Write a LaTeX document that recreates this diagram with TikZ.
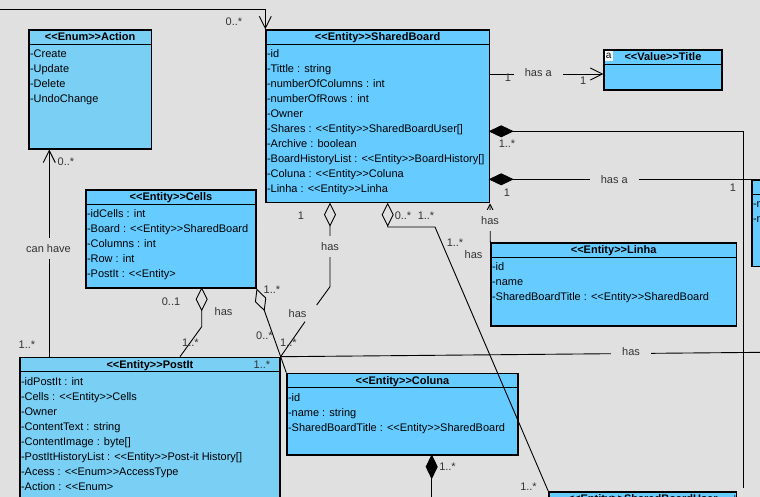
\documentclass[tikz,border=0pt]{standalone}
\usepackage{fontspec}
\setmainfont{Liberation Sans}
\usetikzlibrary{arrows.meta}

\definecolor{canvas}{HTML}{E0E0E0}
\definecolor{classblue}{HTML}{66CCFF}
\definecolor{paleblue}{HTML}{7ACFF5}
\definecolor{labelgray}{HTML}{333333}

% stereotype written with plain angle brackets (kerns keep << and >> apart)
\newcommand{\stereo}[1]{<\kern0pt<#1>\kern0pt>}

% class box: name, left, top, width, height, fill, title
\newcommand{\umlclass}[7]{%
  \node[classframe, fill=#6, minimum width=#4pt, minimum height=#5pt, anchor=north west] (#1) at (#2,#3) {};
  \draw[frameline] ([yshift=-15pt]#1.north west) -- ([yshift=-15pt]#1.north east);
  \node[classtitle] (#1-title) at ([yshift=-11.5pt]#1.north) {#7};
}
% attribute rows of a class box
\newcommand{\umlitems}[2]{%
  \foreach \txt [count=\k] in {#2} {
    \pgfmathsetmacro{\dy}{-28.3-15*(\k-1)}
    \node[classitem] (#1-item\k) at ([xshift=1.5pt,yshift=\dy pt]#1.north west) {\txt};
  }
}

\begin{document}
\begin{tikzpicture}[x=1pt,y=-1pt,
  classframe/.style={draw=black, line width=1.3pt, rectangle, inner sep=0pt},
  frameline/.style={draw=black, line width=1.3pt},
  classtitle/.style={anchor=base, inner sep=0pt, font=\fontsize{11}{13}\selectfont\bfseries},
  classitem/.style={anchor=base west, inner sep=0pt, font=\fontsize{11}{13}\selectfont},
  link/.style={draw=black, line width=0.9pt},
  navarrow/.style={-{Straight Barb[length=12pt,width=12pt]}},
  navsmall/.style={-{Straight Barb[length=9pt,width=9pt]}},
  comp/.style={{Diamond[length=25pt,width=12pt]}-},
  aggr/.style={{Diamond[open,length=24pt,width=12pt]}-},
  mult/.style={inner sep=0pt, font=\fontsize{11}{13}\selectfont, text=labelgray},
  role/.style={fill=canvas, inner xsep=11pt, inner ysep=4pt, font=\fontsize{11}{13}\selectfont, text=labelgray},
  rolev/.style={fill=canvas, inner xsep=2pt, inner ysep=6pt, font=\fontsize{11}{13}\selectfont, text=labelgray},
]
\useasboundingbox (0,0) rectangle (760,497);
\clip (0,0) rectangle (760,497);
\fill[canvas] (0,0) rectangle (760,497);

% ---------- classes ----------
\umlclass{act}{28.3}{29.3}{122.4}{119}{paleblue}{\stereo{Enum}Action}
\umlitems{act}{-Create,-Update,-Delete,-UndoChange}

\umlclass{sb}{265.3}{29.3}{223.4}{172.7}{classblue}{\stereo{Entity}SharedBoard}
\umlitems{sb}{-id,-Tittle : string,-numberOfColumns : int,-numberOfRows : int,-Owner,-Shares : \stereo{Entity}SharedBoardUser[],-Archive : boolean,-BoardHistoryList : \stereo{Entity}BoardHistory[],-Coluna : \stereo{Entity}Coluna,-Linha : \stereo{Entity}Linha}

\umlclass{ti}{603.3}{49.3}{118}{40}{classblue}{\stereo{Value}Title}
\node[fill=white, inner sep=0pt, minimum width=8pt, minimum height=10pt, anchor=north west,
      font=\fontsize{10}{10}\selectfont] (ti-icon) at (604.5,50.5) {a};

\umlclass{ce}{85.3}{189.3}{170}{98}{classblue}{\stereo{Entity}Cells}
\umlitems{ce}{-idCells : int,-Board : \stereo{Entity}SharedBoard,-Columns : int,-Row : int,-PostIt : <\kern0pt<Entity>}

\umlclass{li}{490.3}{242.3}{245.4}{83}{classblue}{\stereo{Entity}Linha}
\umlitems{li}{-id,-name,-SharedBoardTitle : \stereo{Entity}SharedBoard}

\umlclass{rb}{751.3}{179.3}{40}{86.7}{classblue}{}
\umlitems{rb}{-n,-n}

\umlclass{pi}{19.3}{356.7}{260}{160}{paleblue}{\stereo{Entity}PostIt}
\umlitems{pi}{-idPostIt : int,-Cells : \stereo{Entity}Cells,-Owner,-ContentText : string,-ContentImage : byte[],-PostItHistoryList : \stereo{Entity}Post-it History[],-Acess : \stereo{Enum}AccessType,-Action : <\kern0pt<Enum>}

\umlclass{co}{286.3}{372.7}{231}{81.6}{classblue}{\stereo{Entity}Coluna}
\umlitems{co}{-id,-name : string,-SharedBoardTitle : \stereo{Entity}SharedBoard}

\umlclass{su}{548.3}{491.3}{187.4}{60}{classblue}{\stereo{Entity}SharedBoardUser}

% ---------- connector end points ----------
\coordinate (offleft) at (-3,9.3);
\coordinate (canA) at (49.3,356.7);
\coordinate (hasA) at (488.7,74);
\coordinate (compA) at (488.7,131.3);
\coordinate (compAend) at (743,488);
\coordinate (compB) at (488.7,179.3);
\coordinate (aggA) at (330,202.7);
\coordinate (aggAbend) at (330,286.7);
\coordinate (aggAcut) at (316.7,305);
\coordinate (aggAresume) at (305,321.7);
\coordinate (aggB) at (387.7,202.7);
\coordinate (aggBdown) at (387.7,227);
\coordinate (aggBbend) at (435,227);
\coordinate (aggC) at (201.7,287.3);
\coordinate (aggCbend) at (201.7,326.7);
\coordinate (piTop) at (180,356.7);
\coordinate (offright) at (765,352.3);
\coordinate (colComp) at (431.7,454.3);
\coordinate (colDown) at (431.7,505);

% ---------- connectors ----------
\draw[link, navarrow] (offleft) -| (sb.north west);
\draw[link, navarrow] (canA) -- (canA |- act.south);
\draw[link, navarrow] (hasA) -- (hasA -| ti.west);
\draw[link, comp] (compA) -| (compAend);
\draw[link, comp] (compB) -- (compB -| rb.west);
\draw[link, navsmall] (li.north west) -- (sb.south east);
\draw[link, aggr] (aggA) -- (aggAbend) -- (aggAcut);
\draw[link] (aggAresume) -- (pi.north east);
\draw[link, aggr] (aggB) -- (aggBdown) -- (aggBbend) -- (su.north west);
\draw[link, aggr] (aggC) -- (aggCbend) -- (piTop);
\draw[link, aggr] (ce.south east) -- (co.north west);
\draw[link] (pi.north east) -- (offright);
\draw[link, comp] (colComp) -- (colDown);

% ---------- role names ----------
\node[rolev] (lbl-canhave) at (48.5,248.5) {can have};
\node[role] (lbl-hasa1) at (538.3,72.5) {has a};
\node[role] (lbl-hasa2) at (614.3,179.3) {has a};
\node[rolev] (lbl-haslinha) at (490,220.5) {has};
\node[rolev] (lbl-has1) at (330,246.5) {has};
\node[mult] (lbl-has2) at (297.5,314) {has};
\node[mult] (lbl-has3) at (473.5,255) {has};
\node[mult] (lbl-has4) at (223.5,311.5) {has};
\node[role] (lbl-has5) at (631,351.5) {has};
\node[mult, anchor=base west] (lbl-hasa3) at (733.5,503.5) {has a};

% ---------- multiplicities ----------
\node[mult] (m1) at (234,21.5) {0..*};
\node[mult] (m2) at (66,162) {0..*};
\node[mult] (m3) at (27,345) {1..*};
\node[mult] (m4) at (508,77.5) {1};
\node[mult] (m5) at (583.3,81) {1};
\node[mult] (m6) at (507,144) {1..*};
\node[mult] (m7) at (507,193) {1};
\node[mult] (m8) at (733,188) {1};
\node[mult] (m9) at (301,216) {1};
\node[mult] (m10) at (288.5,343) {1..*};
\node[mult] (m11) at (403,216) {0..*};
\node[mult] (m12) at (426,216) {1..*};
\node[mult] (m13) at (455,243) {1..*};
\node[mult] (m14) at (528.5,486.5) {1..*};
\node[mult] (m15) at (171,301.5) {0..1};
\node[mult] (m16) at (190.5,343) {1..*};
\node[mult] (m17) at (272,289.5) {1..*};
\node[mult] (m18) at (264.5,335.5) {0..*};
\node[mult] (m19) at (262,365) {1..*};
\node[mult] (m20) at (447.5,467) {1..*};
\end{tikzpicture}
\end{document}
